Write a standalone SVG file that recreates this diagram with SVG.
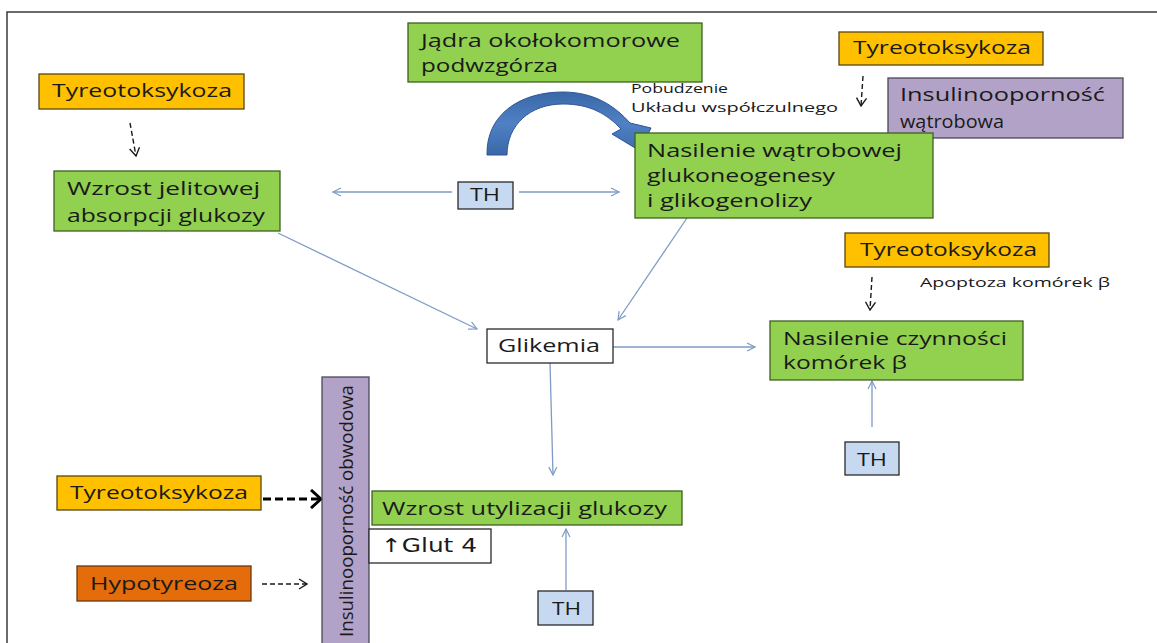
<svg xmlns="http://www.w3.org/2000/svg" width="1157" height="643" viewBox="0 0 1157 643">
<defs>
<style>
text{font-family:"Open Sans","Liberation Sans",sans-serif;fill:#1a1a1a;}
.lbl{font-size:19px;}
.sm{font-size:13.5px;}
.green{fill:#92D050;stroke:#3f5f22;stroke-width:1.3;}
.orange{fill:#FFC000;stroke:#5a4510;stroke-width:1.3;}
.purple{fill:#B3A2C7;stroke:#4a4a5a;stroke-width:1.3;}
.blue{fill:#C6D9F1;stroke:#2a2a2a;stroke-width:1.3;}
.white{fill:#ffffff;stroke:#2a2a2a;stroke-width:1.3;}
.brown{fill:#E46C0A;stroke:#6a3a10;stroke-width:1.3;}
.conn{stroke:#7F9BC4;stroke-width:1.3;fill:none;marker-end:url(#ah);}
.dash{stroke:#1a1a1a;stroke-width:1.4;fill:none;stroke-dasharray:5 3;marker-end:url(#dh);}
</style>
<marker id="ah" viewBox="0 0 10 10" refX="9" refY="5" markerWidth="10" markerHeight="10" markerUnits="userSpaceOnUse" orient="auto">
<path d="M1,1 L9,5 L1,9" fill="none" stroke="#7F9BC4" stroke-width="1.2"/>
</marker>
<marker id="dh" viewBox="0 0 10 12" refX="9" refY="6" markerWidth="10" markerHeight="12" markerUnits="userSpaceOnUse" orient="auto">
<path d="M1,1 L9,6 L1,11" fill="none" stroke="#1a1a1a" stroke-width="1.4"/>
</marker>
<marker id="th" viewBox="0 0 12 20" refX="11" refY="10" markerWidth="12" markerHeight="20" markerUnits="userSpaceOnUse" orient="auto">
<path d="M1,1 L11,10 L1,19" fill="none" stroke="#000" stroke-width="3"/>
</marker>
<linearGradient id="bg" x1="0" y1="0" x2="0" y2="1">
<stop offset="0" stop-color="#3A68A8"/>
<stop offset="0.5" stop-color="#4F81C4"/>
<stop offset="1" stop-color="#3A68A8"/>
</linearGradient>
</defs>
<rect x="0" y="0" width="1157" height="643" fill="#ffffff"/>
<path d="M7,643 L7,12 L1157,12" fill="none" stroke="#3a3a3a" stroke-width="1.5"/>

<g id="connectors">
<line class="conn" x1="452" y1="192" x2="333" y2="192"/>
<line class="conn" x1="519" y1="192" x2="619" y2="192"/>
<line class="conn" x1="278" y1="233" x2="477" y2="329"/>
<line class="conn" x1="687" y1="218" x2="618" y2="320"/>
<line class="conn" x1="613" y1="347" x2="755" y2="347"/>
<line class="conn" x1="550" y1="363" x2="553" y2="475"/>
<line class="conn" x1="566" y1="590" x2="566" y2="529"/>
<line class="conn" x1="872" y1="427" x2="872" y2="381"/>
<line class="dash" x1="130" y1="123" x2="136" y2="156"/>
<line class="dash" x1="863" y1="76" x2="861" y2="106"/>
<line class="dash" x1="872" y1="277" x2="870" y2="310"/>
<line x1="263" y1="499" x2="321" y2="499" stroke="#000" stroke-width="3" stroke-dasharray="8 4" marker-end="url(#th)"/>
<line class="dash" x1="262" y1="584" x2="307" y2="584"/>
<path id="curved-arrow" d="M487,155 C486,116 518,92 563,92 C594,92 615,106 630,123 L651,128 L640,151 L612,134 L621,129 C607,114 590,104 563,104 C530,104 507,125 507,155 Z" fill="url(#bg)" stroke="#2F5597" stroke-width="1"/>
</g>

<g id="tyreo1"><rect class="orange" x="39" y="74" width="205" height="35"/><text class="lbl" x="52" y="97" textLength="180" lengthAdjust="spacingAndGlyphs">Tyreotoksykoza</text></g>
<g id="wzrost-jelit"><rect class="green" x="54" y="171" width="226" height="60"/><text class="lbl" x="67" y="195" textLength="193" lengthAdjust="spacingAndGlyphs">Wzrost jelitowej</text><text class="lbl" x="67" y="222" textLength="198" lengthAdjust="spacingAndGlyphs">absorpcji glukozy</text></g>
<g id="jadra"><rect class="green" x="408" y="23" width="294" height="59"/><text class="lbl" x="421" y="47" textLength="259" lengthAdjust="spacingAndGlyphs">Jądra okołokomorowe</text><text class="lbl" x="421" y="72" textLength="137" lengthAdjust="spacingAndGlyphs">podwzgórza</text></g>
<g id="pobudzenie"><text class="sm" x="631" y="93" textLength="97" lengthAdjust="spacingAndGlyphs">Pobudzenie</text><text class="sm" x="631" y="112" textLength="207" lengthAdjust="spacingAndGlyphs">Układu współczulnego</text></g>
<g id="th1"><rect class="blue" x="458" y="182" width="55" height="27"/><text class="lbl" x="470" y="201" textLength="30" lengthAdjust="spacingAndGlyphs">TH</text></g>
<g id="tyreo2"><rect class="orange" x="839" y="32" width="204" height="33"/><text class="lbl" x="853" y="54" textLength="178" lengthAdjust="spacingAndGlyphs">Tyreotoksykoza</text></g>
<g id="insulino-watr"><rect class="purple" x="888" y="78" width="235" height="60"/><text class="lbl" x="900" y="101" textLength="205" lengthAdjust="spacingAndGlyphs">Insulinooporność</text><text class="lbl" x="900" y="128" textLength="104" lengthAdjust="spacingAndGlyphs">w&#261;trobowa</text></g>
<g id="nasilenie-watr"><rect class="green" x="635" y="133" width="298" height="85"/><text class="lbl" x="647" y="157" textLength="255" lengthAdjust="spacingAndGlyphs">Nasilenie wątrobowej</text><text class="lbl" x="647" y="182" textLength="188" lengthAdjust="spacingAndGlyphs">glukoneogenesy</text><text class="lbl" x="647" y="207" textLength="165" lengthAdjust="spacingAndGlyphs">i glikogenolizy</text></g>
<g id="glikemia"><rect class="white" x="487" y="329" width="126" height="34"/><text class="lbl" x="498" y="352" textLength="102" lengthAdjust="spacingAndGlyphs">Glikemia</text></g>
<g id="tyreo3"><rect class="orange" x="845" y="233" width="204" height="34"/><text class="lbl" x="860" y="256" textLength="177" lengthAdjust="spacingAndGlyphs">Tyreotoksykoza</text></g>
<g id="apoptoza"><text class="sm" x="920" y="287" textLength="190" lengthAdjust="spacingAndGlyphs">Apoptoza komórek β</text></g>
<g id="nasilenie-beta"><rect class="green" x="770" y="321" width="253" height="59"/><text class="lbl" x="783" y="345" textLength="224" lengthAdjust="spacingAndGlyphs">Nasilenie czynności</text><text class="lbl" x="783" y="369" textLength="124" lengthAdjust="spacingAndGlyphs">komórek β</text></g>
<g id="th2"><rect class="blue" x="845" y="442" width="54" height="33"/><text class="lbl" x="857" y="466" textLength="30" lengthAdjust="spacingAndGlyphs">TH</text></g>
<g id="insulino-obw"><rect class="purple" x="322" y="377" width="47" height="280"/><text class="lbl" transform="translate(353,637) rotate(-90)" x="0" y="0" textLength="252" lengthAdjust="spacingAndGlyphs">Insulinooporność obwodowa</text></g>
<g id="wzrost-utyl"><rect class="green" x="372" y="491" width="310" height="34"/><text class="lbl" x="382" y="515" textLength="285" lengthAdjust="spacingAndGlyphs">Wzrost utylizacji glukozy</text></g>
<g id="glut4"><rect class="white" x="369" y="529" width="122" height="34"/><text class="lbl" x="381" y="552" style="font-family:'DejaVu Sans',sans-serif" textLength="96" lengthAdjust="spacingAndGlyphs">↑Glut 4</text></g>
<g id="th3"><rect class="blue" x="538" y="591" width="55" height="34"/><text class="lbl" x="552" y="615" textLength="29" lengthAdjust="spacingAndGlyphs">TH</text></g>
<g id="tyreo4"><rect class="orange" x="57" y="476" width="204" height="34"/><text class="lbl" x="70" y="499" textLength="178" lengthAdjust="spacingAndGlyphs">Tyreotoksykoza</text></g>
<g id="hypotyreoza"><rect class="brown" x="77" y="566" width="174" height="35"/><text class="lbl" x="90" y="590" textLength="148" lengthAdjust="spacingAndGlyphs">Hypotyreoza</text></g>
</svg>
